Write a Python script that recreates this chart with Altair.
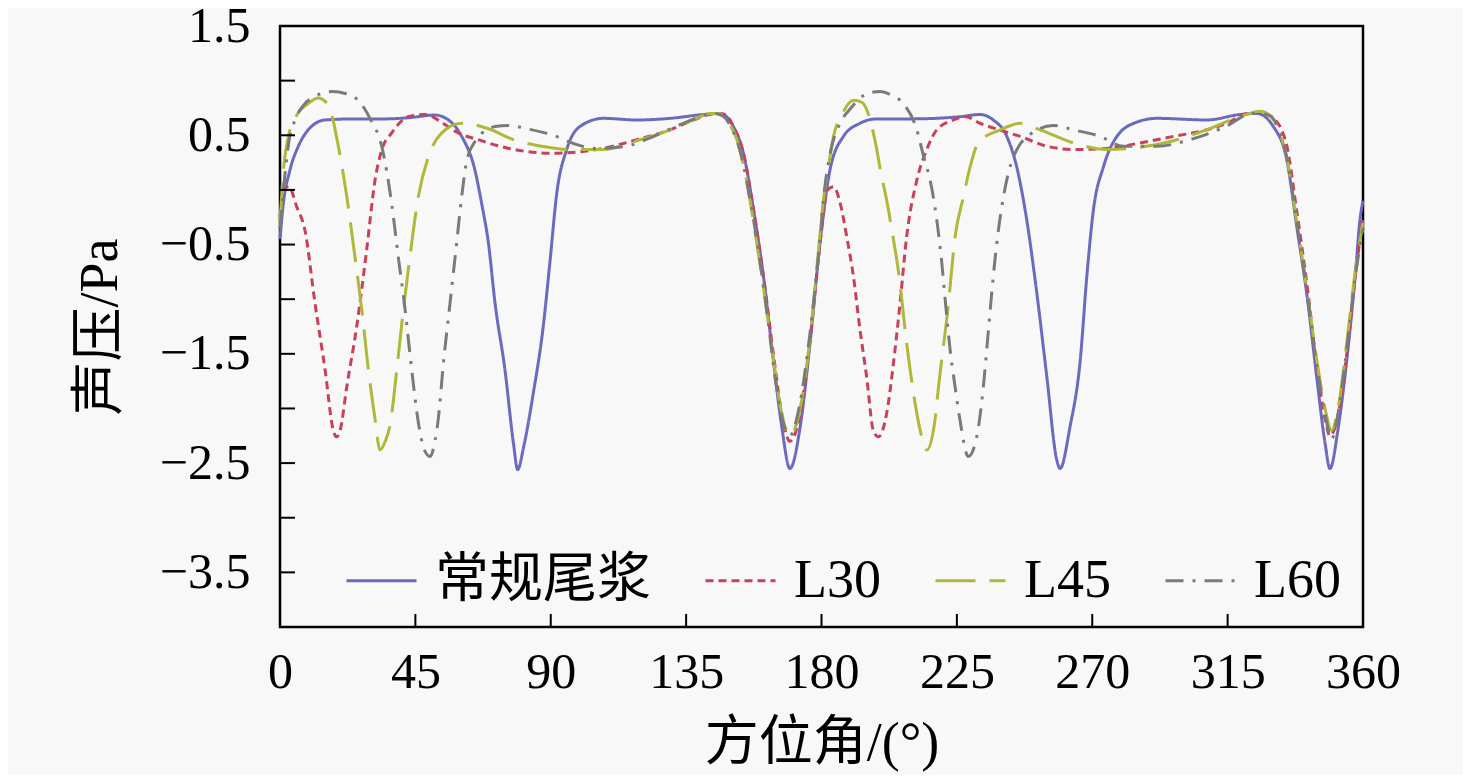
import altair as alt
import pandas as pd

# 方位角 (deg) and 声压 (Pa), one pair of lists per series
conv_deg = [0, 1, 3.3, 6.1, 9.4, 15, 25, 35, 42.6, 51.5, 56, 60.4, 64.8, 67, 69.3, 71.5, 74.8, 77.6, 79, 81,
            84.2, 87.5, 89.8, 92, 95.3, 99.7, 107.5, 118.6, 129.7, 140.7, 146.3, 150.7, 154, 157.4, 160.7, 164,
            166.8, 169.5, 172.9, 176.2, 179.5, 182.8, 187.3, 192.8, 198.4, 210, 226, 232.7, 237.1, 241.6, 244.9,
            248.2, 251.6, 254.9, 258.2, 259.3, 262.6, 266, 268.2, 270.4, 273.7, 278.2, 284.8, 291.5, 308.1,
            319.1, 324.7, 330.2, 334.7, 338, 341.3, 344.6, 347.4, 349, 351.8, 354.6, 357.4, 359, 360]
conv_val = [-0.45, -0.15, 0.18, 0.40, 0.55, 0.64, 0.65, 0.65, 0.66, 0.685, 0.64, 0.49, 0.18, -0.12, -0.49, -1.04,
            -1.65, -2.32, -2.56, -2.35, -1.86, -1.25, -0.64, -0.03, 0.37, 0.58, 0.655, 0.64, 0.655, 0.69, 0.70,
            0.58, 0.34, -0.18, -0.79, -1.56, -2.17, -2.55, -2.17, -1.40, -0.49, 0.18, 0.49, 0.61, 0.65, 0.65,
            0.67, 0.69, 0.64, 0.49, 0.21, -0.27, -0.95, -1.71, -2.47, -2.55, -2.17, -1.56, -0.79, -0.18, 0.21,
            0.49, 0.62, 0.655, 0.64, 0.69, 0.70, 0.58, 0.27, -0.34, -0.95, -1.71, -2.32, -2.55, -2.17, -1.56,
            -0.79, -0.27, -0.1]

l30_deg = [0, 1.5, 3, 5.5, 8.3, 11.6, 15, 17.7, 18.8, 20, 22.2, 25.5, 28.8, 31.6, 34, 37.1, 42.6, 48, 55.8, 58.7,
           67, 73, 79.8, 90.9, 100, 107.5, 118.6, 129.7, 137.4, 145, 148, 150.7, 154, 157.4, 160.7, 164, 166.8,
           169.5, 172.9, 176.2, 179.5, 182, 184, 186.2, 188.4, 190.6, 192.8, 195, 197.2, 198.9, 201.7, 203.9,
           206.1, 208.3, 211.7, 215, 218.3, 223.8, 228, 232.7, 239, 246, 254.9, 263.7, 274.8, 285.9, 297, 308.1,
           314.7, 321.4, 326, 330, 332.4, 334.7, 338, 341.3, 344.6, 347.4, 349, 351.8, 354.6, 357.4, 360]
l30_val = [-0.25, 0.02, 0.03, -0.15, -0.37, -1.03, -1.65, -2.2, -2.26, -2.2, -1.8, -1.25, -0.55, 0.09, 0.38, 0.52,
           0.67, 0.69, 0.58, 0.53, 0.45, 0.40, 0.36, 0.335, 0.35, 0.38, 0.46, 0.55, 0.64, 0.70, 0.69, 0.58, 0.34,
           -0.18, -0.79, -1.50, -2.05, -2.3, -2.05, -1.38, -0.49, 0.0, 0.03, -0.12, -0.43, -0.79, -1.28, -1.71,
           -2.2, -2.26, -2.04, -1.59, -1.04, -0.43, 0.09, 0.37, 0.55, 0.64, 0.67, 0.61, 0.55, 0.49, 0.40, 0.37,
           0.38, 0.43, 0.49, 0.55, 0.61, 0.70, 0.71, 0.66, 0.58, 0.40, -0.2, -0.85, -1.60, -2.1, -2.25, -2.05,
           -1.5, -0.8, -0.25]

l45_deg = [0, 1.2, 2.8, 5.5, 9.4, 12.7, 15, 16.6, 19.4, 22.2, 24.9, 27.2, 29.4, 31.6, 33.2, 35, 36.6, 38.8, 41,
           43.2, 46, 49.3, 53.7, 60.4, 69.3, 77.6, 87, 96.4, 107, 118.6, 129.7, 137.4, 143, 146, 149, 152, 155,
           158, 161, 164, 166.8, 169.5, 172.9, 176.2, 178.5, 180.6, 182.5, 184, 187, 190.6, 193.5, 195.5, 197.8,
           199.8, 201.7, 203.4, 205.6, 208.3, 211.1, 212.8, 215, 217.5, 218.9, 222.2, 224.4, 227.2, 229.4, 232.1,
           239.4, 246, 252.7, 263.7, 274.8, 285.9, 297, 308, 319, 326, 329, 332, 335, 338, 341.3, 344.6, 347.4,
           349.5, 352, 354.6, 357.4, 360]
l45_val = [-0.3, 0.2, 0.49, 0.68, 0.79, 0.84, 0.81, 0.74, 0.40, -0.06, -0.61, -1.10, -1.65, -2.1, -2.38, -2.3,
           -2.15, -1.65, -1.10, -0.61, -0.06, 0.30, 0.52, 0.61, 0.56, 0.46, 0.40, 0.37, 0.37, 0.45, 0.55, 0.64,
           0.70, 0.70, 0.62, 0.45, 0.1, -0.4, -0.95, -1.55, -2.05, -2.25, -2.0, -1.35, -0.7, -0.1, 0.25, 0.49,
           0.70, 0.82, 0.80, 0.70, 0.45, 0.15, -0.1, -0.37, -0.75, -1.4, -1.95, -2.2, -2.38, -2.15, -1.8, -1.04,
           -0.43, -0.06, 0.21, 0.43, 0.55, 0.61, 0.55, 0.43, 0.37, 0.39, 0.45, 0.55, 0.67, 0.72, 0.68, 0.55, 0.25,
           -0.3, -0.9, -1.55, -2.0, -2.2, -1.95, -1.4, -0.75, -0.3]

l60_deg = [0, 1.5, 3, 5, 8, 12, 17.2, 22, 26, 30, 33.8, 37.1, 39.3, 41.6, 43.8, 46, 48, 49.9, 51.5, 52.6, 54.3,
           56.5, 58.7, 60.4, 62.1, 65, 71.5, 75.9, 82, 90.9, 98, 105, 115, 125, 135, 144, 147, 150, 153, 156, 159,
           162, 165, 167.5, 169.5, 172.5, 176, 179, 181, 183, 186, 189.5, 192.8, 196, 199.5, 203, 207.2, 211.7,
           214, 216.1, 218.3, 220, 221.1, 222.7, 224.4, 226, 228.8, 231.6, 233.8, 235.5, 237.1, 238.8, 240.5,
           243.8, 250.5, 257, 263.7, 272.6, 280.3, 291.5, 302.6, 313.6, 323.6, 329, 332, 335, 338, 341.3, 344.6,
           347.4, 349.5, 352, 354.6, 357.4, 360]
l60_val = [-0.35, 0.1, 0.45, 0.64, 0.78, 0.86, 0.90, 0.88, 0.82, 0.65, 0.40, -0.12, -0.61, -1.10, -1.65, -2.13,
           -2.38, -2.44, -2.3, -2.1, -1.59, -1.04, -0.49, -0.06, 0.27, 0.45, 0.58, 0.59, 0.56, 0.50, 0.42, 0.38,
           0.40, 0.50, 0.62, 0.70, 0.68, 0.57, 0.35, -0.05, -0.55, -1.15, -1.8, -2.15, -2.25, -2.0, -1.35, -0.6,
           0.0, 0.35, 0.6, 0.74, 0.84, 0.89, 0.90, 0.87, 0.79, 0.55, 0.3, 0.09, -0.27, -0.67, -1.0, -1.45, -1.80,
           -2.1, -2.44, -2.26, -1.80, -1.28, -0.79, -0.37, -0.06, 0.30, 0.53, 0.59, 0.55, 0.49, 0.40, 0.40, 0.46,
           0.57, 0.70, 0.68, 0.55, 0.25, -0.3, -0.92, -1.6, -2.05, -2.28, -2.0, -1.45, -0.8, -0.35]

series_names = ["常规尾浆", "L30", "L45", "L60"]
series_colors = ["#6b6bbd", "#c8405a", "#b0b83a", "#7a7a7a"]
series_dashes = [[1, 0], [8, 5], [40, 14], [18, 9, 3, 9]]

x_ticks = [45, 90, 135, 180, 225, 270, 315]
x_labels = [0, 45, 90, 135, 180, 225, 270, 315, 360]
y_ticks = [-3.5, -3.0, -2.5, -2.0, -1.5, -1.0, -0.5, 0.0, 0.5, 1.0]
y_labels = [-3.5, -2.5, -1.5, -0.5, 0.5, 1.5]

frames = []
for name, degs, vals in zip(series_names, [conv_deg, l30_deg, l45_deg, l60_deg],
                            [conv_val, l30_val, l45_val, l60_val]):
    frames.append(pd.DataFrame({"deg": degs, "val": vals, "series": name}))
df = pd.concat(frames, ignore_index=True)

W = 1083
H = 601
FONT = "Liberation Serif, Noto Sans CJK SC"

x_scale = alt.Scale(domain=[0, 360], nice=False)
y_scale = alt.Scale(domain=[-4, 1.5], nice=False)

x_axis = alt.Axis(values=x_labels, format="d", ticks=False, tickSize=0, domain=False, grid=False,
                  labelFontSize=50, labelPadding=20, labelFont=FONT, labelColor="black",
                  labelFlush=False, labelOverlap=False,
                  titleFont=FONT, titleFontSize=54, titleFontWeight="normal", titleColor="black",
                  titleX=W / 2, titleY=116, titleBaseline="middle")
y_axis = alt.Axis(values=y_labels, format=".1f", ticks=False, tickSize=0, domain=False, grid=False,
                  labelFontSize=50, labelPadding=30, labelFont=FONT, labelColor="black",
                  labelFlush=False, labelOverlap=False,
                  titleFont=FONT, titleFontSize=54, titleFontWeight="normal", titleColor="black",
                  titleX=-180, titleY=H / 2, titleAngle=-90, titleAlign="center", titleBaseline="middle")

legend_opts = dict(title=None, orient="none", direction="horizontal", legendX=65, legendY=518,
                   symbolType="stroke", symbolSize=4900, symbolStrokeWidth=3, labelFont=FONT,
                   labelFontSize=54, labelColor="black", labelOffset=17, columnPadding=48, labelLimit=400)

lines = alt.Chart(df).mark_line(strokeWidth=3, interpolate="monotone").encode(
    x=alt.X("deg:Q", scale=x_scale, title="方位角/(°)", axis=x_axis),
    y=alt.Y("val:Q", scale=y_scale, title="声压/Pa", axis=y_axis),
    color=alt.Color("series:N", scale=alt.Scale(domain=series_names, range=series_colors),
                    legend=alt.Legend(**legend_opts)),
    strokeDash=alt.StrokeDash("series:N", scale=alt.Scale(domain=series_names, range=series_dashes),
                              legend=alt.Legend(**legend_opts)),
)

yt = alt.Chart(pd.DataFrame({"val": y_ticks})).mark_rule(color="black", strokeWidth=2).encode(
    y=alt.Y("val:Q", scale=y_scale, title="声压/Pa", axis=y_axis),
    x=alt.value(0), x2=alt.value(15),
)

xt = alt.Chart(pd.DataFrame({"deg": x_ticks})).mark_rule(color="black", strokeWidth=2).encode(
    x=alt.X("deg:Q", scale=x_scale, title="方位角/(°)", axis=x_axis),
    y=alt.value(H), y2=alt.value(H - 13),
)

chart = alt.layer(lines, yt, xt).properties(
    width=W, height=H,
    autosize=alt.AutoSizeParams(type="none"),
    padding={"left": 272, "top": 18, "right": 100, "bottom": 148},
    background="#f8f8f8",
).configure_view(
    stroke="black", strokeWidth=2.5,
)

chart.save("out.html", embed_options={"renderer": "svg", "actions": False})
